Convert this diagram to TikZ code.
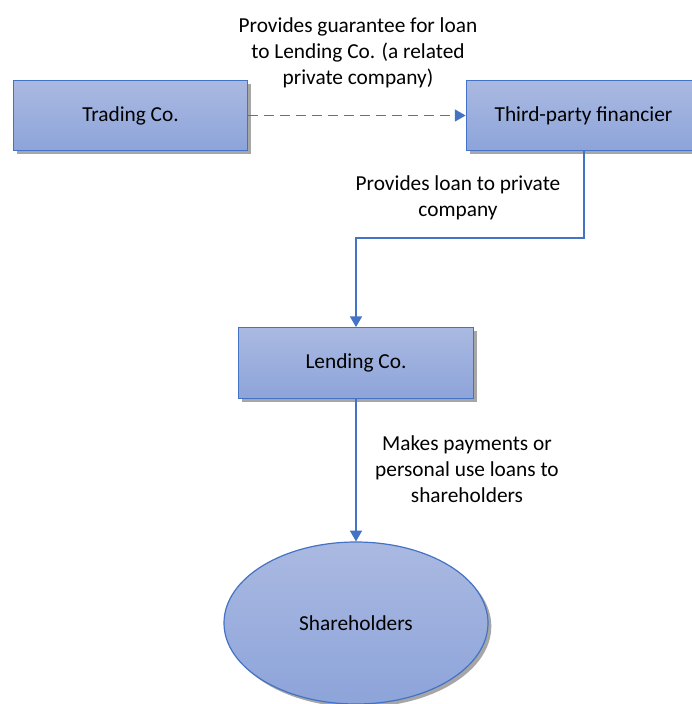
\documentclass[tikz,border=0pt]{standalone}
\usepackage{fontspec}
\setmainfont{Carlito}
\usetikzlibrary{arrows.meta,shapes.geometric,shadows}
\definecolor{edgeblue}{HTML}{4472C4}
\definecolor{filltop}{HTML}{AAB9E1}
\definecolor{fillbot}{HTML}{8DA4DA}
\tikzset{
  entity/.style={draw=edgeblue, line width=0.9pt, top color=filltop, bottom color=fillbot,
    drop shadow={shadow xshift=2.5pt, shadow yshift=-2.5pt, opacity=0.35, fill=black},
    font=\fontsize{16}{19.5}\selectfont, inner sep=0pt},
  rectbox/.style={entity, rectangle, minimum width=176pt, minimum height=53pt},
  flowline/.style={draw=edgeblue, line width=0.9pt, -{Triangle[width=9pt,length=8pt]}},
  flowlabel/.style={align=center, font=\fontsize{16}{19.5}\selectfont}
}
\begin{document}
\begin{tikzpicture}[x=0.75pt,y=-0.75pt]
		\useasboundingbox[fill=white] (0,0) rectangle (692,704);
		\node[rectbox] (trading) at (130.5,115.5) {Trading Co.};
		\node[rectbox] (financier) at (583.5,115.5) {Third-party financier};
		\node[rectbox] (lending) at (356,363) {Lending Co.};
		\node[entity, ellipse, minimum width=198pt, minimum height=121.5pt] (holders) at (356,623) {Shareholders};
		\coordinate (bendA) at (584,238);
		\coordinate (bendB) at (356,238);
		% connectors
		\draw[flowline, dash pattern=on 7.5pt off 4.5pt] (trading.east) -- (financier.west);
		\draw[flowline] (financier.south -| bendA) -- (bendA) -- (bendB) -- (lending.north);
		\draw[flowline] (lending.south) -- (holders.north);
		% labels
		\node[flowlabel] (guarantee) at (358,53) {Provides guarantee for loan\\to Lending Co. (a related\\private company)};
		\node[flowlabel] (loan) at (458,198) {Provides loan to private\\company};
		\node[flowlabel] (payments) at (467,469) {Makes payments or\\personal use loans to\\shareholders};
		\end{tikzpicture}
\end{document}
